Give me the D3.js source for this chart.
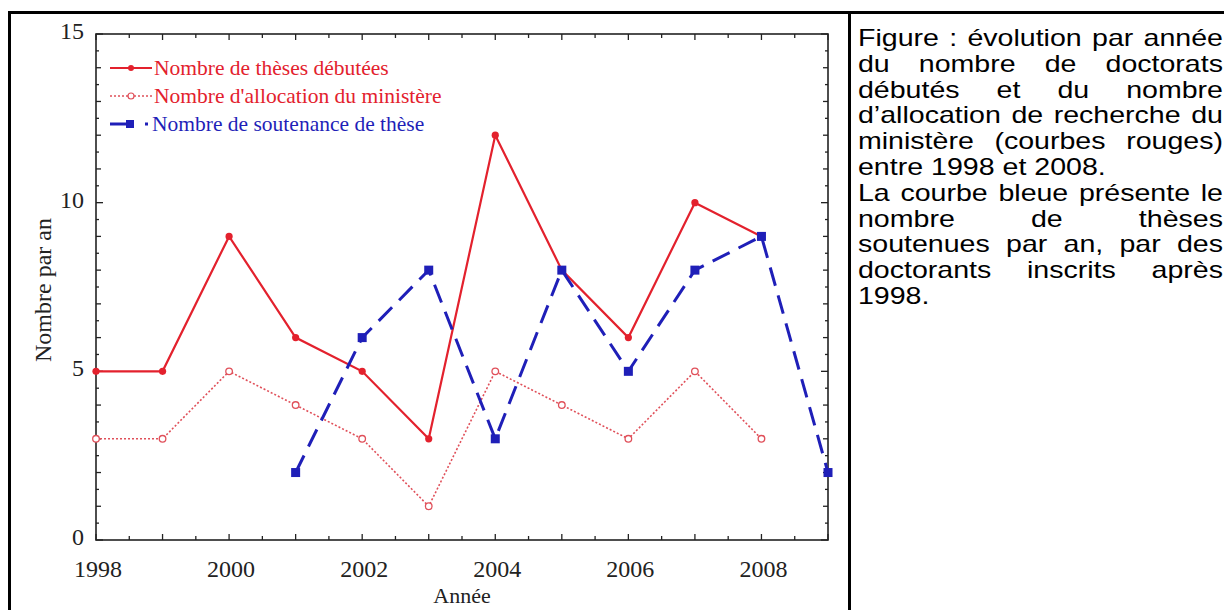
<!DOCTYPE html>
<html><head><meta charset="utf-8">
<script src="https://cdn.jsdelivr.net/npm/d3@7"></script>
<style>html,body{margin:0;padding:0;background:#fff;}svg{display:block;}</style>
</head><body>
<script>
const years = [1998,1999,2000,2001,2002,2003,2004,2005,2006,2007,2008];
const thesesDebutees = [5,5,9,6,5,3,12,8,6,10,9];
const allocations = [3,3,5,4,3,1,5,4,3,5,3];
const soutenanceYears = [2001,2002,2003,2004,2005,2006,2007,2008,2009];
const soutenances = [2,6,8,3,8,5,8,9,2];
const xTickLabels = [1998,2000,2002,2004,2006,2008];
const yTickLabels = [0,5,10,15];
const legendLabels = ["Nombre de thèses débutées","Nombre d'allocation du ministère","Nombre de soutenance de thèse"];
const captionLines = [
  ["Figure : évolution par année", true],
  ["du nombre de doctorats", true],
  ["débutés et du nombre", true],
  ["d’allocation de recherche du", true],
  ["ministère (courbes rouges)", true],
  ["entre 1998 et 2008.", false],
  ["La courbe bleue présente le", true],
  ["nombre de thèses", true],
  ["soutenues par an, par des", true],
  ["doctorants inscrits après", true],
  ["1998.", false]
];

const W = 1224, H = 610;
const red = "#e3212d", redLight = "#e0505a", blue = "#1f1fb8";
const svg = d3.select("body").append("svg").attr("width", W).attr("height", H);

// frame
svg.append("line").attr("x1",9.5).attr("x2",9.5).attr("y1",11).attr("y2",H).attr("stroke","#000").attr("stroke-width",3);
svg.append("line").attr("x1",8).attr("x2",W).attr("y1",12.5).attr("y2",12.5).attr("stroke","#000").attr("stroke-width",3);
svg.append("line").attr("x1",849.5).attr("x2",849.5).attr("y1",11).attr("y2",H).attr("stroke","#000").attr("stroke-width",3);

const x = d3.scaleLinear().domain([1998,2009]).range([96,828]);
const y = d3.scaleLinear().domain([0,15]).range([540,34]);
const serif = "'Liberation Serif','Times New Roman',serif";

// axes box
const g = svg.append("g");
g.append("rect").attr("x",x(1998)).attr("y",y(15)).attr("width",x(2009)-x(1998)).attr("height",y(0)-y(15))
  .attr("fill","none").attr("stroke","#222").attr("stroke-width",1.6);

const xMinor = d3.range(1998,2009.01,0.5);
const yMinor = d3.range(0,15.01,0.5);
xMinor.forEach(v=>{
  const L = Number.isInteger(v)?6:4;
  g.append("line").attr("x1",x(v)).attr("x2",x(v)).attr("y1",y(0)).attr("y2",y(0)-L).attr("stroke","#222").attr("stroke-width",1.3);
  g.append("line").attr("x1",x(v)).attr("x2",x(v)).attr("y1",y(15)).attr("y2",y(15)+L).attr("stroke","#222").attr("stroke-width",1.3);
});
yMinor.forEach(v=>{
  const L = (v%5===0)?7:(Number.isInteger(v)?5:3);
  g.append("line").attr("y1",y(v)).attr("y2",y(v)).attr("x1",x(1998)).attr("x2",x(1998)+L).attr("stroke","#222").attr("stroke-width",1.3);
  g.append("line").attr("y1",y(v)).attr("y2",y(v)).attr("x1",x(2009)).attr("x2",x(2009)-L).attr("stroke","#222").attr("stroke-width",1.3);
});

// tick labels
xTickLabels.forEach(v=>{
  svg.append("text").attr("x",x(v)+2).attr("y",577).attr("text-anchor","middle")
    .attr("font-family",serif).attr("font-size",24).attr("fill","#222").text(v);
});
yTickLabels.forEach(v=>{
  svg.append("text").attr("x",84).attr("y",y(v)+5).attr("text-anchor","end")
    .attr("font-family",serif).attr("font-size",24).attr("fill","#222").text(v);
});
svg.append("text").attr("x",462).attr("y",603).attr("text-anchor","middle")
  .attr("font-family",serif).attr("font-size",22).attr("fill","#222").text("Année");
svg.append("text").attr("transform","translate(51,290) rotate(-90)").attr("text-anchor","middle")
  .attr("font-family",serif).attr("font-size",24).attr("fill","#222").text("Nombre par an");

// series
const line = d3.line().x(d=>x(d[0])).y(d=>y(d[1]));
const s1 = years.map((yr,i)=>[yr,thesesDebutees[i]]);
const s2 = years.map((yr,i)=>[yr,allocations[i]]);
const s3 = soutenanceYears.map((yr,i)=>[yr,soutenances[i]]);

g.append("path").datum(s2).attr("d",line).attr("fill","none").attr("stroke",redLight).attr("stroke-width",1.6).attr("stroke-dasharray","2,2");
g.append("path").datum(s1).attr("d",line).attr("fill","none").attr("stroke",red).attr("stroke-width",2.2);
g.append("path").datum(s3).attr("d",line).attr("fill","none").attr("stroke",blue).attr("stroke-width",3).attr("stroke-dasharray","19,10");

g.selectAll(".m2").data(s2).enter().append("circle").attr("cx",d=>x(d[0])).attr("cy",d=>y(d[1])).attr("r",3.3)
  .attr("fill","#fff").attr("stroke",redLight).attr("stroke-width",1.3);
g.selectAll(".m1").data(s1).enter().append("circle").attr("cx",d=>x(d[0])).attr("cy",d=>y(d[1])).attr("r",3.6).attr("fill",red);
g.selectAll(".m3").data(s3).enter().append("rect").attr("x",d=>x(d[0])-4.5).attr("y",d=>y(d[1])-4.5)
  .attr("width",9).attr("height",9).attr("fill",blue);

// legend
const ly = [68,96,124];
const lg = svg.append("g");
lg.append("line").attr("x1",110).attr("x2",152).attr("y1",ly[0]).attr("y2",ly[0]).attr("stroke",red).attr("stroke-width",2.2);
lg.append("circle").attr("cx",131).attr("cy",ly[0]).attr("r",3).attr("fill",red);
lg.append("line").attr("x1",110).attr("x2",152).attr("y1",ly[1]).attr("y2",ly[1]).attr("stroke",redLight).attr("stroke-width",1.5).attr("stroke-dasharray","2,2");
lg.append("circle").attr("cx",131).attr("cy",ly[1]).attr("r",3).attr("fill","#fff").attr("stroke",redLight).attr("stroke-width",1.2);
lg.append("line").attr("x1",110).attr("x2",128).attr("y1",ly[2]).attr("y2",ly[2]).attr("stroke",blue).attr("stroke-width",3);
lg.append("rect").attr("x",126).attr("y",ly[2]-4).attr("width",8).attr("height",8).attr("fill",blue);
lg.append("rect").attr("x",145).attr("y",ly[2]-1.5).attr("width",3).attr("height",3).attr("fill",blue);
legendLabels.forEach((t,i)=>{
  lg.append("text").attr("x",i===2?152:154).attr("y",ly[i]+7).attr("font-family",serif).attr("font-size",21.5)
    .attr("fill",i<2?red:blue).text(t);
});

// caption (justified)
const sans = "'Liberation Sans',Arial,Helvetica,sans-serif";
const fs = 24, sx = 1.19, x0 = 858, x1 = 1223, base0 = 46, lh = 25.8;
const tmp = svg.append("text").attr("font-family",sans).attr("font-size",fs).attr("visibility","hidden");
function w(s){ tmp.text(s); return tmp.node().getComputedTextLength()*sx; }
const spaceW = fs*0.278*sx;
captionLines.forEach(([ln,just],i)=>{
  const words = ln.split(" ");
  const by = base0 + lh*i;
  let gap = spaceW;
  if (just && words.length>1) {
    const total = words.reduce((a,s)=>a+w(s),0);
    gap = (x1-x0-total)/(words.length-1);
  }
  let cx = x0;
  words.forEach(word=>{
    svg.append("text").attr("transform",`translate(${cx},${by}) scale(${sx},1)`)
      .attr("font-family",sans).attr("font-size",fs).attr("fill","#000").text(word);
    cx += w(word)+gap;
  });
});
tmp.remove();
</script>
</body></html>
